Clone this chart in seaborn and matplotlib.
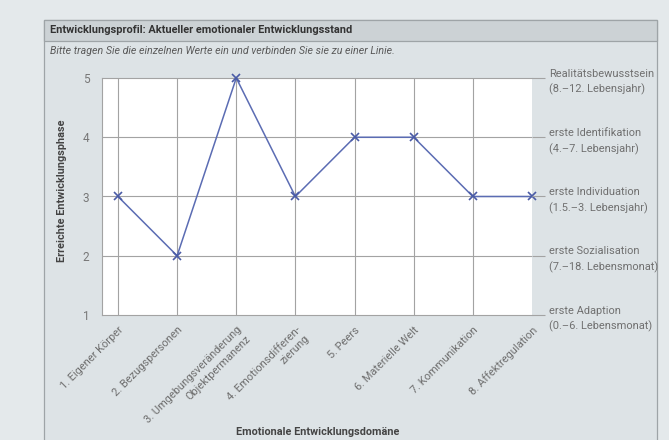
import matplotlib
matplotlib.use('Agg')
import matplotlib.pyplot as plt
import seaborn as sns
import pandas as pd
from matplotlib.patches import Rectangle

domains = ['1. Eigener Körper', '2. Bezugspersonen',
           '3. Umgebungsveränderung\nObjektpermanenz',
           '4. Emotionsdifferen-\nzierung', '5. Peers', '6. Materielle Welt',
           '7. Kommunikation', '8. Affektregulation']
phases = [3, 2, 5, 3, 4, 4, 3, 3]
phase_ticks = [1, 2, 3, 4, 5]
phase_labels = ['erste Adaption\n(0.–6. Lebensmonat)',
                'erste Sozialisation\n(7.–18. Lebensmonat)',
                'erste Individuation\n(1.5.–3. Lebensjahr)',
                'erste Identifikation\n(4.–7. Lebensjahr)',
                'Realitätsbewusstsein\n(8.–12. Lebensjahr)']

sns.set_style('white')
plt.rcParams['font.family'] = ['Roboto', 'DejaVu Sans']

df = pd.DataFrame({'pos': range(len(domains)), 'phase': phases})

fig = plt.figure(figsize=(6.69, 4.40), dpi=100)
fig.patch.set_facecolor('#e4e9eb')

# form box and header band (behind the axes)
fig.patches.append(Rectangle((44 / 669, -0.01), 613 / 669, 0.9645, transform=fig.transFigure,
                             facecolor='#dde3e6', edgecolor='#9ea4a7', lw=0.9, zorder=-10))
fig.patches.append(Rectangle((44 / 669, 0.907), 613 / 669, 0.0475, transform=fig.transFigure,
                             facecolor='#ccd2d5', edgecolor='#9ea4a7', lw=0.9, zorder=-9))

fig.text(50 / 669, (440 - 30) / 440, 'Entwicklungsprofil: Aktueller emotionaler Entwicklungsstand',
         fontsize=7.9, fontweight='bold', color='#333333', va='center')
fig.text(50 / 669, (440 - 51) / 440,
         'Bitte tragen Sie die einzelnen Werte ein und verbinden Sie sie zu einer Linie.',
         fontsize=7.7, style='italic', color='#5a5a5a', va='center')

ax = fig.add_axes([102 / 669, (440 - 315) / 440, 430 / 669, 237 / 440])
ax.set_facecolor('white')

sns.lineplot(data=df, x='pos', y='phase', ax=ax, color='#5b6cb3', lw=1.1,
             marker='x', markersize=6, markeredgewidth=1.2, markeredgecolor='#4a5ba6',
             zorder=3, clip_on=False)

ax.set_xlim(-0.27, 7)
ax.set_ylim(1, 5)
ax.set_xticks(range(len(domains)))
ax.set_xticklabels(domains, rotation=45, ha='right', va='top', rotation_mode='anchor',
                   fontsize=7.9, color='#6e6e6e', linespacing=1.3)
ax.set_yticks(phase_ticks)
ax.set_yticklabels([str(t) for t in phase_ticks], fontsize=8.5, color='#777777')
ax.tick_params(axis='x', length=0, pad=7)
ax.tick_params(axis='y', length=0, pad=9)

for i in range(len(domains) - 1):
    ax.axvline(i, color='#a3a3a3', lw=0.8, zorder=1)
for t in phase_ticks[1:-1]:
    ax.axhline(t, color='#a3a3a3', lw=0.8, zorder=1)

for side in ['left', 'top', 'bottom']:
    ax.spines[side].set_color('#a3a3a3')
    ax.spines[side].set_linewidth(0.8)
ax.spines['right'].set_visible(False)
ax.set_xlabel('')
ax.set_ylabel('')

# right-hand phase labels with extended grid ticks
ax2 = ax.twinx()
ax2.set_ylim(1, 5)
ax2.set_yticks(phase_ticks)
ax2.set_yticklabels(phase_labels, fontsize=7.9, color='#707070', linespacing=1.6)
ax2.tick_params(axis='y', length=9.5, width=0.8, color='#a3a3a3', pad=3, direction='out')
for side in ax2.spines:
    ax2.spines[side].set_visible(False)

fig.text(62 / 669, (440 - 191) / 440, 'Erreichte Entwicklungsphase', rotation=90,
         fontsize=7.8, fontweight='bold', color='#444444', ha='center', va='center')
fig.text(318 / 669, (440 - 432) / 440, 'Emotionale Entwicklungsdomäne',
         fontsize=7.8, fontweight='bold', color='#444444', ha='center', va='center')

fig.savefig('out.png', dpi=100, facecolor=fig.get_facecolor())
